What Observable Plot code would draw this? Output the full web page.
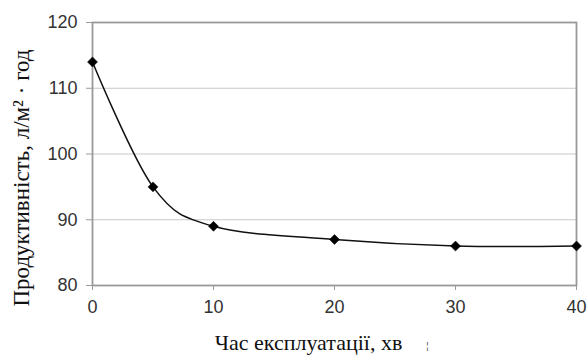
<!DOCTYPE html>
<html>
<head>
<meta charset="utf-8">
<script src="https://cdn.jsdelivr.net/npm/d3@7"></script>
<script src="https://cdn.jsdelivr.net/npm/@observablehq/plot@0.6"></script>
<style>
  html, body { margin: 0; padding: 0; background: #fff; }
  svg { display: block; }
</style>
</head>
<body>
<div id="chart"></div>
<script>
const times = [0, 5, 10, 20, 30, 40];
const productivity = [114, 95, 89, 87, 86, 86];
const xTicks = [0, 10, 20, 30, 40];
const yTicks = [80, 90, 100, 110, 120];
const xTitle = "Час експлуатації, хв";
const yTitle = "Продуктивність, л/м² · год";

const data = times.map((t, i) => ({t, p: productivity[i]}));

const chart = Plot.plot({
  width: 588,
  height: 355,
  marginLeft: 92,
  marginRight: 12,
  marginTop: 22,
  marginBottom: 70,
  style: {background: "#fff", fontFamily: "'Liberation Sans', Arial, sans-serif"},
  x: {domain: [0, 40], label: null},
  y: {domain: [80, 120], label: null},
  marks: [
    Plot.gridY(yTicks, {stroke: "#c8c8c8", strokeOpacity: 1, strokeWidth: 1}),
    Plot.frame({stroke: "#999", strokeWidth: 1.8}),
    Plot.axisX(xTicks, {tickSize: 5, tickPadding: 10, stroke: "#999", fontSize: 18, fill: "#333", label: null}),
    Plot.axisY(yTicks, {tickSize: 6, tickPadding: 9, stroke: "#999", fontSize: 18, fill: "#333", label: null}),
    Plot.line(data, {x: "t", y: "p", curve: "cardinal", tension: 0, stroke: "#111", strokeWidth: 1.5}),
    Plot.dot(data, {x: "t", y: "p", symbol: "diamond2", r: 4.5, fill: "#000", stroke: "#000", strokeWidth: 0.5}),
    Plot.text([yTitle], {frameAnchor: "left", dx: -71, dy: 24, rotate: -90, fontSize: 23, fontFamily: "'Liberation Serif', 'Times New Roman', serif", fill: "#111", textAnchor: "middle", lineAnchor: "middle"}),
    Plot.text([xTitle], {frameAnchor: "bottom", dx: -26, dy: 57, fontSize: 22, fontFamily: "'Liberation Serif', 'Times New Roman', serif", fill: "#111", textAnchor: "middle", lineAnchor: "middle"}),
    Plot.text(["¦"], {frameAnchor: "bottom", dx: 93, dy: 61, fontSize: 9, fill: "#444", textAnchor: "middle", lineAnchor: "middle"})
  ]
});
document.getElementById("chart").appendChild(chart);
</script>
</body>
</html>
